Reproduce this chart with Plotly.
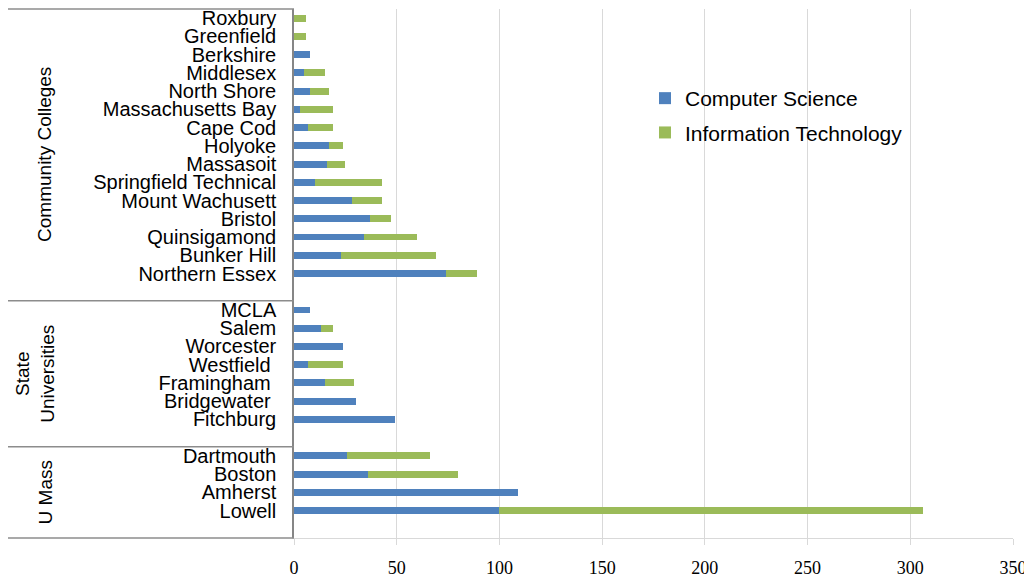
import plotly.graph_objects as go

# Category rows from bottom to top (blank rows separate the groups)
categories = [
    " ", "Lowell", "Amherst", "Boston", "Dartmouth",
    "  ", "Fitchburg", "Bridgewater\u00a0", "Framingham\u00a0", "Westfield\u00a0", "Worcester", "Salem", "MCLA",
    "   ", "Northern Essex", "Bunker Hill", "Quinsigamond", "Bristol", "Mount Wachusett",
    "Springfield Technical", "Massasoit", "Holyoke", "Cape Cod", "Massachusetts Bay",
    "North Shore", "Middlesex", "Berkshire", "Greenfield", "Roxbury",
]
computer_science = [
    None, 100, 109, 36, 26,
    None, 49, 30, 15, 7, 24, 13, 8,
    None, 74, 23, 34, 37, 28, 10, 16, 17, 7, 3, 8, 5, 8, 0, 0,
]
information_technology = [
    None, 206, 0, 44, 40,
    None, 0, 0, 14, 17, 0, 6, 0,
    None, 15, 46, 26, 10, 15, 33, 9, 7, 12, 16, 9, 10, 0, 6, 6,
]
groups = ["U Mass", "State<br>Universities", "Community Colleges"]
x_ticks = [0, 50, 100, 150, 200, 250, 300, 350]

BLUE = "#4F81BD"
GREEN = "#9BBB59"
SANS = "Liberation Sans, Arial, sans-serif"
SERIF = "Liberation Serif, Times New Roman, serif"

fig = go.Figure()
fig.add_trace(go.Bar(y=categories, x=computer_science, orientation="h",
                     name="Computer Science", marker=dict(color=BLUE, line=dict(width=0)),
                     legendgroup="cs"))
fig.add_trace(go.Bar(y=categories, x=information_technology, orientation="h",
                     name="Information Technology", marker=dict(color=GREEN, line=dict(width=0)),
                     legendgroup="it"))

OFF = 8  # page body margin
W, H = 1032 - OFF, 578 - OFF
ml = 294 - OFF
mr = W - (1013 - OFF)
mt = 1
mb = H - (538 - OFF)
pw = W - ml - mr
ph = H - mt - mb
top_page = OFF + mt

def paper_x(px):
    return (px - OFF - ml) / pw

def paper_y(py):
    return 1 - (py - top_page) / ph

fig.update_layout(
    width=W, height=H,
    margin=dict(l=ml, r=mr, t=mt, b=mb),
    barmode="stack", bargap=0.62,
    plot_bgcolor="white", paper_bgcolor="white",
    font=dict(family=SANS, size=20, color="black"),
    legend=dict(x=paper_x(645), y=paper_y(78), xanchor="left", yanchor="top",
                font=dict(size=21, family=SANS), tracegroupgap=4, bgcolor="rgba(0,0,0,0)",
                traceorder="grouped", itemwidth=30),
    xaxis=dict(range=[0, 350], tickmode="array", tickvals=x_ticks, showgrid=True,
               gridcolor="#D9D9D9", gridwidth=1, automargin=False,
               zeroline=False, showline=True, linecolor="#D9D9D9", linewidth=1,
               ticks="outside", ticklen=6, tickcolor="#D9D9D9",
               tickfont=dict(family=SERIF, size=18, color="black"), ticklabelstandoff=7),
    yaxis=dict(type="category", categoryorder="array", categoryarray=categories,
               tickmode="array", tickvals=categories, ticktext=categories,
               range=[-0.5, len(categories) - 0.5], automargin=False,
               showline=True, linecolor="#868686", linewidth=1.5, showgrid=False,
               ticks="", tickfont=dict(family=SANS, size=20, color="black"), ticklabelstandoff=12),
)

# group separators on the left
def frac_y(v):
    return (v + 0.5) / len(categories)

sep_color = "#8C8C8C"
for yb in [-0.5, 4.5, 12.5, 28.5]:
    fig.add_shape(type="line", xref="paper", yref="paper",
                  x0=paper_x(8), x1=0, y0=frac_y(yb), y1=frac_y(yb),
                  line=dict(color=sep_color, width=1.5))

# group labels rotated
group_spans = [(-0.5, 4.5), (4.5, 12.5), (12.5, 28.5)]
group_x = [45, 35, 45]
for g, (a, b), gx in zip(groups, group_spans, group_x):
    fig.add_annotation(text=g, xref="paper", yref="paper", x=paper_x(gx),
                       y=(frac_y(a) + frac_y(b)) / 2, textangle=-90, showarrow=False,
                       xanchor="center", yanchor="middle",
                       font=dict(family=SANS, size=19, color="black"))

fig.write_html("out.html")
